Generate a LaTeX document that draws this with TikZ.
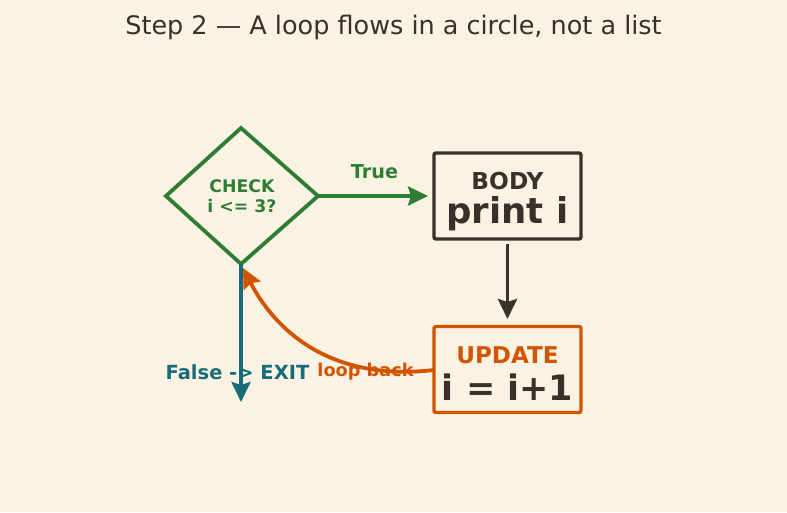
\documentclass[tikz,border=0pt]{standalone}
\usepackage{fontspec}
\setmainfont{DejaVu Sans}
\usetikzlibrary{arrows.meta,shapes.geometric}
\definecolor{bgc}{RGB}{250,243,227}
\definecolor{ink}{RGB}{58,48,42}
\definecolor{grn}{RGB}{46,125,50}
\definecolor{org}{RGB}{211,84,0}
\definecolor{teal}{RGB}{26,107,122}
\tikzset{
  fs/.style={font=\fontsize{#1}{#1}\selectfont\bfseries},
  conn/.style={line width=3.8pt,-{Stealth[length=20pt,width=19pt,inset=3pt]}},
  boxst/.style={draw,line width=3.4pt,rounded corners=2pt,minimum width=147pt,minimum height=86pt,inner sep=0pt}
}
\begin{document}
\begin{tikzpicture}[x=1pt,y=-1pt]
\fill[bgc] (0,0) rectangle (787,512);
\useasboundingbox (0,0) rectangle (787,512);
\node[text=ink,font=\fontsize{25.5}{25.5}\selectfont] (title) at (393.5,27) {Step 2 — A loop flows in a circle, not a list};
% diamond
\draw[grn,line width=3.8pt,line join=miter] (166,196) coordinate (dl) -- (241,128) coordinate (dt) -- (318,196) coordinate (dr) -- (241,264) coordinate (db) -- cycle;
\node[text=grn,fs=17.3] (chk) at (242,186) {CHECK};
\node[text=grn,fs=17.3] (chk2) at (242,206) {i <= 3?};
% body box
\node[boxst,draw=ink] (body) at (507.5,196) {};
\node[text=ink,fs=23.3] (bodyt) at (507.5,181) {BODY};
\node[text=ink,fs=35.5] (bodyc) at (507.5,214) {print i};
% update box
\node[boxst,draw=org] (upd) at (507.5,369.5) {};
\node[text=org,fs=23.1] (updt) at (507.5,355) {UPDATE};
\node[text=ink,fs=35] (updc) at (507.5,387) {i = i+1};
% true arrow
\coordinate (tend) at (428,196);
\draw[conn,grn] (dr) -- (tend);
\node[text=grn,fs=19.2] (truel) at (374.5,172) {True};
% body -> update
\coordinate (bs) at (507.5,244);
\coordinate (ue) at (507.5,319);
\draw[conn,ink] (bs) -- (ue);
% false arrow
\coordinate (fend) at (241,402);
\draw[conn,teal] (db) -- (fend);
\node[text=teal,fs=19.5] (falsel) at (237.5,372) {False -> EXIT};
% loop back
\node[text=org,fs=17.7] (loopl) at (365.5,372) {loop back};
\coordinate (ls) at (434,370);
\coordinate (le) at (243,268);
\draw[conn,org] (ls) .. controls (330,382) and (275,330) .. (le);
\end{tikzpicture}
\end{document}
